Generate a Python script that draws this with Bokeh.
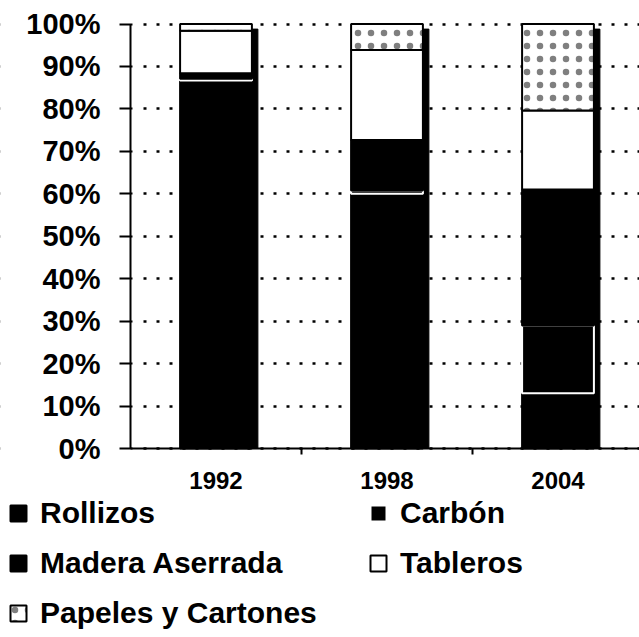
from bokeh.plotting import figure
from bokeh.models import (Range1d, FixedTicker, PrintfTickFormatter, Legend, LegendItem,
                          ColumnDataSource, BoxAnnotation)
from bokeh.embed import file_html
from bokeh.resources import INLINE

years = ["1992", "1998", "2004"]
series = ["Rollizos", "Carbón", "Madera Aserrada", "Tableros", "Papeles y Cartones"]
rollizos = [86.7, 60.0, 13.0]
carbon = [0.4, 0.8, 16.0]
madera = [1.3, 11.9, 32.0]
tableros = [10.0, 21.2, 18.6]
papeles = [1.6, 6.1, 20.4]
y_ticks = [0, 10, 20, 30, 40, 50, 60, 70, 80, 90, 100]

xs = list(range(len(years)))
totals = [a + b + c + d + e for a, b, c, d, e in zip(rollizos, carbon, madera, tableros, papeles)]

FONT = "Liberation Sans"
W, H = 639, 637
# layout: plot area from x=130 (left) to the right edge, 0% at y=448, 100% at y=23.5
PX_X = 171.0
PX_Y = 4.245
x_lo = -0.5 - 130 / PX_X
x_hi = -0.5 + (W - 130) / PX_X
y_lo = -(H - 448) / PX_Y
y_hi = 100 + 23.5 / PX_Y

p = figure(width=W, height=H,
           x_range=Range1d(x_lo, x_hi), y_range=Range1d(y_lo, y_hi),
           output_backend="svg", toolbar_location=None, min_border=0)
p.outline_line_color = None
p.background_fill_color = "white"
p.border_fill_color = "white"
p.xgrid.visible = False

# keep the dotted gridlines to the right of the value axis
p.add_layout(BoxAnnotation(left=x_lo, right=-0.5 + 4 / PX_X, fill_color="white", fill_alpha=1,
                           line_color=None, level="underlay"))

# shadow on the right side of each bar
shadow_src = ColumnDataSource(dict(x=[x + 0.035 for x in xs], top=[t - 1.2 for t in totals]))
p.vbar(x="x", top="top", bottom=0, width=0.42, source=shadow_src,
       fill_color="black", line_color="black", line_width=1)

src = ColumnDataSource(dict(x=xs, **{
    series[0]: rollizos, series[1]: carbon, series[2]: madera,
    series[3]: tableros, series[4]: papeles}))

fills = ["black", "black", "black", "white", "white"]
lines = ["black", "white", "black", "black", "black"]
rs = p.vbar_stack(series, x="x", width=0.42, source=src,
                  fill_color=fills, line_color=lines, line_width=2)
rs[4].glyph.hatch_pattern = "dot"
rs[4].glyph.hatch_color = "black"
rs[4].glyph.hatch_scale = 13
rs[4].glyph.hatch_weight = 1.0
rs[4].glyph.hatch_alpha = 0.5

# y axis (drawn at the left edge of the first category slot)
p.yaxis.fixed_location = -0.5
p.yaxis.bounds = (0, 100)
p.yaxis.ticker = FixedTicker(ticks=y_ticks)
p.yaxis.formatter = PrintfTickFormatter(format="%d%%")
p.yaxis.major_tick_out = 11
p.yaxis.major_tick_in = 2
p.yaxis.minor_tick_line_color = None
p.yaxis.axis_line_width = 2
p.yaxis.major_tick_line_width = 2
p.yaxis.major_label_standoff = 19
p.yaxis.major_label_text_font = FONT
p.yaxis.major_label_text_font_style = "bold"
p.yaxis.major_label_text_font_size = "29px"
p.yaxis.major_label_text_color = "black"

p.ygrid.grid_line_color = "black"
p.ygrid.grid_line_dash = "3 10"
p.ygrid.grid_line_width = 2.5

# x axis (at 0%)
p.xaxis.fixed_location = 0
p.xaxis.bounds = (-0.5, x_hi)
p.xaxis.ticker = FixedTicker(ticks=xs, minor_ticks=[0.5, 1.5])
p.xaxis.major_label_overrides = {i: y for i, y in zip(xs, years)}
p.xaxis.major_tick_out = 0
p.xaxis.major_tick_in = 0
p.xaxis.minor_tick_out = 6
p.xaxis.minor_tick_in = 0
p.xaxis.minor_tick_line_width = 2
p.xaxis.axis_line_width = 2
p.xaxis.major_label_standoff = 17
p.xaxis.major_label_text_font = FONT
p.xaxis.major_label_text_font_style = "bold"
p.xaxis.major_label_text_font_size = "24px"
p.xaxis.major_label_text_color = "black"

legend = Legend(items=[LegendItem(label=s, renderers=[r]) for s, r in zip(series, rs)],
                location=(8, 7), orientation="horizontal", ncols=2,
                glyph_width=20, glyph_height=20, label_standoff=12,
                label_width=312, label_height=34, spacing=16,
                padding=0, margin=0, border_line_color=None, background_fill_alpha=0,
                label_text_font=FONT, label_text_font_style="bold",
                label_text_font_size="30px", label_text_color="black")
p.add_layout(legend)

open("out.html", "w").write(file_html(p, INLINE))
